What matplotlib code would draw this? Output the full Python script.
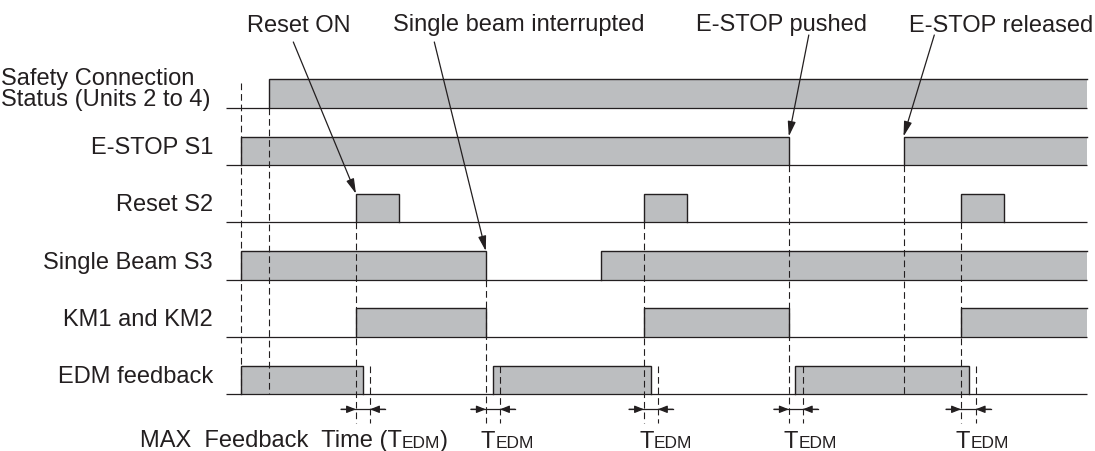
import matplotlib
matplotlib.use('Agg')
import matplotlib.pyplot as plt

plt.rcParams['font.family'] = ['Liberation Sans', 'DejaVu Sans']

INK = '#231f20'
FILL = '#bcbec0'

# row names, top to bottom
row_labels = ['Safety Connection\nStatus (Units 2 to 4)', 'E-STOP S1', 'Reset S2',
              'Single Beam S3', 'KM1 and KM2', 'EDM feedback']

# ON intervals for each signal (time axis, arbitrary units)
safety_on = [(269.3, 1086.7)]
estop_on = [(240.7, 788.8), (903.5, 1086.7)]
reset_on = [(356.0, 398.8), (644.0, 687.0), (961.0, 1003.8)]
beam_on = [(240.7, 485.8), (601.1, 1086.7)]
km_on = [(356.0, 485.8), (644.0, 788.8), (961.0, 1086.7)]
edm_on = [(240.7, 363.3), (492.8, 651.3), (795.4, 968.7)]
signals = [safety_on, estop_on, reset_on, beam_on, km_on, edm_on]

t_begin = 226.0
t_end = 1086.7

# KM1/KM2 switching instants, which row triggered them, and the max EDM feedback time limit
km_switch = [356.0, 485.8, 644.0, 788.8, 961.0]
km_trigger_row = [2, 3, 2, 1, 2]
tedm_limit = [370.0, 500.0, 657.9, 802.8, 975.7]

# power-up instants and e-stop release (guides down to EDM row)
startup_times = [240.7, 269.3]
release_time = 903.5

# callouts
callout_text = ['Reset ON', 'Single beam interrupted', 'E-STOP pushed', 'E-STOP released']
callout_time = [356.0, 485.8, 788.8, 903.5]
callout_row = [2, 3, 1, 1]
callout_label_x = [298.3, 519.0, 782.0, 1093.0]
callout_align = ['center', 'center', 'center', 'right']
callout_tail = [(293.3, 42.0), (434.3, 42.0), (808.8, 35.0), (934.3, 35.0)]

# layout (pixel-like units)
W, H = 1095, 451
BASE0 = 107.7
PITCH = 57.3
BAR_H = 28.5
LABEL_X = 212.9
ARROW_Y = 409.3
GUIDE_BOTTOM = 423.0
TEXT_BASE = 447.5
FS = 17
FS_SMALL = 12.5

fig = plt.figure(figsize=(W / 100, H / 100), dpi=100)
ax = fig.add_axes([0, 0, 1, 1])
ax.set_xlim(0, W)
ax.set_ylim(H, 0)
ax.axis('off')


def base_y(i):
    return BASE0 + PITCH * i


dash = (0, (6.0, 3.5))

# signal rows
for i, (lab, on) in enumerate(zip(row_labels, signals)):
    yb = base_y(i)
    ax.hlines(yb, t_begin, t_end, color=INK, lw=0.9)
    for (a, b) in on:
        xs = [a, a, b, b] if b < t_end else [a, a, b]
        ys = [yb, yb - BAR_H, yb - BAR_H, yb] if b < t_end else [yb, yb - BAR_H, yb - BAR_H]
        ax.fill_between([a, b], yb - BAR_H, yb, color=FILL, lw=0)
        ax.plot(xs, ys, color=INK, lw=1.0, solid_joinstyle='miter')
    if i == 0:
        l1, l2 = lab.split('\n')
        ax.text(1, yb - 23.2, l1, fontsize=FS, color=INK, ha='left', va='baseline')
        ax.text(1, yb - 1.7, l2, fontsize=FS, color=INK, ha='left', va='baseline')
    else:
        ax.text(LABEL_X, yb - 11, lab, fontsize=FS, color=INK, ha='right', va='baseline')

edm_base = base_y(5)
edm_top = edm_base - BAR_H

# dashed guides
ax.vlines(startup_times[0], base_y(0) - BAR_H + 4, edm_base, color=INK, lw=0.8, linestyles=dash)
ax.vlines(startup_times[1], base_y(0), edm_base, color=INK, lw=0.8, linestyles=dash)
ax.vlines(release_time, base_y(1), edm_base, color=INK, lw=0.8, linestyles=dash)
for t, r in zip(km_switch, km_trigger_row):
    ax.vlines(t, base_y(r), GUIDE_BOTTOM, color=INK, lw=0.8, linestyles=dash)
for t in tedm_limit:
    ax.vlines(t, edm_top, GUIDE_BOTTOM, color=INK, lw=0.8, linestyles=dash)

# TEDM dimension arrows
head = dict(arrowstyle='-|>,head_length=0.55,head_width=0.22', color=INK, lw=0.9,
            shrinkA=0, shrinkB=0, mutation_scale=10)
for a, b in zip(km_switch, tedm_limit):
    ax.plot([a - 15, b + 15], [ARROW_Y, ARROW_Y], color=INK, lw=0.9)
    ax.annotate('', xy=(a, ARROW_Y), xytext=(a - 15, ARROW_Y), arrowprops=head)
    ax.annotate('', xy=(b, ARROW_Y), xytext=(b + 15, ARROW_Y), arrowprops=head)

# callouts
callhead = dict(arrowstyle='-|>,head_length=0.75,head_width=0.2', color=INK, lw=0.9,
                shrinkA=0, shrinkB=0, mutation_scale=12)
for s, t, r, lx, al, tail in zip(callout_text, callout_time, callout_row, callout_label_x,
                                 callout_align, callout_tail):
    ax.text(lx, 31.5, s, fontsize=FS, color=INK, ha=al, va='baseline')
    ax.annotate('', xy=(t, base_y(r) - BAR_H), xytext=tail, arrowprops=callhead)

# bottom captions with small-caps style "EDM"
fig.canvas.draw()
renderer = fig.canvas.get_renderer()


def put_runs(x, y, runs):
    for s, size in runs:
        t = ax.text(x, y, s, fontsize=size, color=INK, ha='left', va='baseline')
        bb = t.get_window_extent(renderer)
        x = ax.transData.inverted().transform((bb.x1, bb.y0))[0]


put_runs(140, TEXT_BASE, [('MAX  Feedback  Time (T', FS), ('EDM', FS_SMALL), (')', FS)])
for a in km_switch[1:]:
    put_runs(a - 5, TEXT_BASE, [('T', FS), ('EDM', FS_SMALL)])

fig.savefig('out.png', dpi=100)
